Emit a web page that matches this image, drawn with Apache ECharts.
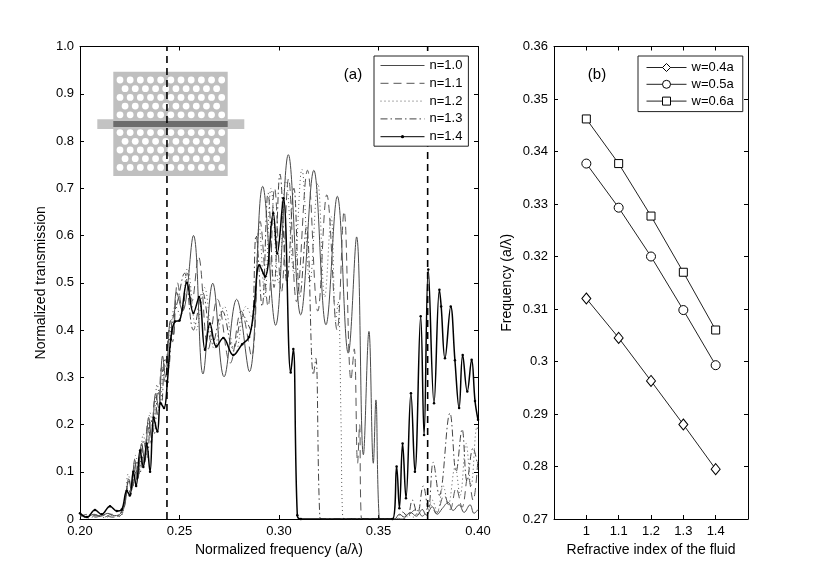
<!DOCTYPE html>
<html>
<head>
<meta charset="utf-8">
<script src="https://cdn.jsdelivr.net/npm/echarts@6/dist/echarts.min.js"></script>
<style>
html, body { margin: 0; padding: 0; background: #fff; }
#main { width: 830px; height: 587px; }
</style>
</head>
<body>
<div id="main"></div>
<script>
// (a) transmission spectra, [frequency a/lambda, transmission]
var seriesNames = ['n=1.0', 'n=1.1', 'n=1.2', 'n=1.3', 'n=1.4'];

var transN10 = [[0.200,0.012],[0.2035,0.004],[0.207,0.010],[0.2105,0.006],[0.214,0.012],[0.2175,0.007],[0.2205,0.012],
  [0.2225,0.030],[0.2245,0.085],[0.2258,0.060],[0.2275,0.125],[0.2290,0.085],[0.2310,0.160],[0.2325,0.120],[0.2345,0.215],
  [0.2360,0.170],[0.2380,0.265],[0.2395,0.235],[0.2415,0.345],[0.2430,0.300],[0.2455,0.420],[0.2468,0.390],[0.2485,0.480],
  [0.2515,0.440],[0.2570,0.600],[0.2618,0.307],[0.2667,0.499],[0.2724,0.301],[0.2787,0.465],[0.2851,0.312],[0.2918,0.704],
  [0.2983,0.410],[0.3047,0.771],[0.3109,0.432],[0.3175,0.738],[0.3236,0.411],[0.3293,0.683],[0.3348,0.351],[0.3390,0.597],
  [0.3424,0.136],[0.3452,0.397],[0.3474,0.118],[0.3487,0.252],[0.3503,0.004],[0.3520,0],[0.3580,0],[0.3605,0.010],
  [0.3630,0.004],[0.3660,0.014],[0.3690,0.006],[0.3720,0.020],[0.3740,0.008],[0.3770,0.026],[0.3795,0.010],[0.3820,0.022],
  [0.3850,0.035],[0.3875,0.018],[0.3905,0.030],[0.3930,0.014],[0.3960,0.030],[0.3980,0.012],[0.4000,0.020]];

var transN11 = [[0.200,0.008],[0.204,0.003],[0.208,0.008],[0.212,0.004],[0.216,0.010],[0.2195,0.006],[0.2220,0.020],
  [0.2240,0.070],[0.2255,0.050],[0.2272,0.110],[0.2288,0.080],[0.2305,0.150],[0.2322,0.115],[0.2340,0.200],[0.2358,0.160],
  [0.2375,0.250],[0.2392,0.220],[0.2410,0.320],[0.2428,0.290],[0.2448,0.400],[0.2465,0.375],[0.2490,0.500],[0.2515,0.440],
  [0.2540,0.520],[0.2562,0.460],[0.2595,0.555],[0.2645,0.360],[0.2690,0.465],[0.2755,0.330],[0.2810,0.440],[0.2862,0.345],
  [0.2905,0.630],[0.2945,0.450],[0.2978,0.700],[0.3012,0.480],[0.3048,0.720],[0.3088,0.460],[0.3143,0.738],[0.3195,0.440],
  [0.3240,0.686],[0.3292,0.400],[0.3327,0.651],[0.3362,0.294],[0.3378,0.360],[0.3395,0.118],[0.3405,0.200],[0.3413,0.004],
  [0.3430,0],[0.3620,0],[0.3650,0.008],[0.3690,0.020],[0.3720,0.006],[0.3760,0.030],[0.3790,0.012],[0.3830,0.050],
  [0.3860,0.020],[0.3890,0.065],[0.3920,0.025],[0.3950,0.090],[0.3975,0.040],[0.4000,0.130]];

var transN12 = [[0.200,0.006],[0.2045,0.002],[0.2085,0.007],[0.2125,0.003],[0.2165,0.008],[0.2200,0.005],[0.2225,0.035],
  [0.2242,0.095],[0.2258,0.070],[0.2280,0.135],[0.2296,0.100],[0.2318,0.180],[0.2334,0.140],[0.2352,0.225],[0.2368,0.190],
  [0.2388,0.285],[0.2404,0.250],[0.2422,0.330],[0.2440,0.310],[0.2458,0.410],[0.2480,0.450],[0.2505,0.430],[0.2540,0.530],
  [0.2585,0.400],[0.2625,0.490],[0.2675,0.360],[0.2725,0.450],[0.2780,0.350],[0.2835,0.450],[0.2870,0.420],[0.2900,0.620],
  [0.2928,0.470],[0.2960,0.700],[0.2998,0.500],[0.3035,0.720],[0.3075,0.520],[0.3115,0.740],[0.3155,0.500],[0.3195,0.710],
  [0.3230,0.470],[0.3262,0.640],[0.3285,0.420],[0.3297,0.460],[0.3312,0.200],[0.3320,0.004],[0.3335,0],[0.3600,0],
  [0.3640,0.010],[0.3675,0.004],[0.3710,0.025],[0.3740,0.008],[0.3770,0.040],[0.3795,0.015],[0.3825,0.070],[0.3850,0.030],
  [0.3885,0.110],[0.3910,0.050],[0.3940,0.160],[0.3965,0.070],[0.3995,0.195],[0.4000,0.190]];

var transN13 = [[0.200,0.005],[0.2040,0.010],[0.2080,0.004],[0.2120,0.009],[0.2160,0.004],[0.2200,0.010],[0.2228,0.045],
  [0.2246,0.080],[0.2262,0.065],[0.2283,0.120],[0.2300,0.095],[0.2320,0.165],[0.2338,0.130],[0.2356,0.210],[0.2373,0.180],
  [0.2392,0.270],[0.2408,0.240],[0.2428,0.340],[0.2443,0.320],[0.2465,0.420],[0.2490,0.460],[0.2525,0.520],[0.2570,0.400],
  [0.2615,0.480],[0.2665,0.370],[0.2715,0.440],[0.2770,0.360],[0.2820,0.430],[0.2858,0.400],[0.2885,0.600],[0.2915,0.450],
  [0.2945,0.690],[0.2975,0.490],[0.3005,0.730],[0.3040,0.500],[0.3075,0.700],[0.3105,0.470],[0.3138,0.620],[0.3173,0.305],
  [0.3185,0.340],[0.3205,0.004],[0.3220,0],[0.3590,0],[0.3620,0.015],[0.3645,0.005],[0.3670,0.040],[0.3695,0.010],
  [0.3725,0.070],[0.3750,0.020],[0.3775,0.120],[0.3805,0.050],[0.3859,0.224],[0.3890,0.100],[0.3920,0.190],[0.3945,0.080],
  [0.3975,0.150],[0.4000,0.110]];

var transN14 = [[0.200,0.012],[0.2035,0.004],[0.2075,0.019],[0.2109,0.010],[0.2151,0.027],[0.2185,0.017],[0.2210,0.020],
  [0.2235,0.060],[0.2250,0.050],[0.2268,0.100],[0.2282,0.070],[0.2302,0.145],[0.2318,0.110],[0.2335,0.160],[0.2352,0.100],
  [0.2370,0.215],[0.2389,0.185],[0.2405,0.245],[0.2422,0.235],[0.2439,0.290],[0.2456,0.380],[0.2477,0.418],[0.2500,0.420],
  [0.2537,0.500],[0.2570,0.436],[0.2598,0.470],[0.2628,0.358],[0.2653,0.414],[0.2685,0.365],[0.2720,0.383],[0.2770,0.347],
  [0.2815,0.370],[0.2850,0.385],[0.2875,0.450],[0.2901,0.537],[0.2930,0.513],[0.2971,0.647],[0.2991,0.562],[0.3022,0.679],
  [0.3059,0.310],[0.3072,0.360],[0.3092,0.008],[0.3110,0],[0.3570,0],[0.3591,0.111],[0.3605,0.023],[0.3621,0.160],
  [0.3638,0.044],[0.3663,0.266],[0.3683,0.100],[0.3712,0.429],[0.3729,0.178],[0.3750,0.528],[0.3779,0.245],[0.3806,0.485],
  [0.3815,0.450],[0.3834,0.340],[0.3863,0.450],[0.3884,0.336],[0.3905,0.235],[0.3923,0.347],[0.3946,0.270],[0.3968,0.337],
  [0.3985,0.250],[0.4000,0.210]];

// band edges marked with dashed lines
var cutoffFreq = [0.2437, 0.3747];

// (b) defect mode frequency vs fluid index
var widthNames = ['w=0.4a', 'w=0.5a', 'w=0.6a'];
var fluidIndex = [1.0, 1.1, 1.2, 1.3, 1.4];
var freqW04 = [0.3120, 0.3045, 0.2963, 0.2880, 0.2795];
var freqW05 = [0.3377, 0.3293, 0.3200, 0.3098, 0.2993];
var freqW06 = [0.3462, 0.3377, 0.3277, 0.3170, 0.3060];

var font = '"Liberation Sans", Arial, Helvetica, sans-serif';
var myChart = echarts.init(document.getElementById('main'));

function frameAxis(grid, pos, min, max, step, extra) {
    var ax = {
        type: 'value', gridIndex: grid, position: pos,
        min: min, max: max, interval: step,
        axisLine: { show: true, onZero: false, lineStyle: { color: '#000', width: 1 } },
        axisTick: { show: true, inside: true, length: 4, lineStyle: { color: '#000' } },
        axisLabel: { show: false },
        splitLine: { show: false }
    };
    return Object.assign(ax, extra || {});
}

var tickText = { show: true, color: '#000', fontSize: 13, fontFamily: font, margin: 6 };
var nameText = { color: '#000', fontSize: 14, fontFamily: font };

function pair(xs, ys) {
    return xs.map(function (x, i) { return [x, ys[i]]; });
}

// photonic crystal inset
var inset = [
    { type: 'rect', shape: { x: 113.3, y: 71.7, width: 114.4, height: 104.3 }, style: { fill: '#bfbfbf' } },
    { type: 'rect', shape: { x: 97.3, y: 119.3, width: 147, height: 9.7 }, style: { fill: '#c3c3c3' } },
    { type: 'rect', shape: { x: 113.3, y: 121, width: 114.4, height: 6 }, style: { fill: '#6c6c6c' } }
];
var rowY = [80, 88.7, 97.4, 106.1, 114.8, 132.6, 141.3, 150, 158.7, 167.4];
rowY.forEach(function (y, r) {
    var shift = (r % 5) % 2 === 1;
    var count = shift ? 10 : 11;
    for (var c = 0; c < count; c++) {
        inset.push({ type: 'circle', shape: { cx: 120 + c * 10.17 + (shift ? 5.08 : 0), cy: y, r: 3.4 }, style: { fill: '#fff' } });
    }
});

// hide the marker in legend icons of the plain line styles
var legendA = seriesNames.map(function (n, i) {
    return i < 4 ? { name: n, itemStyle: { opacity: 0 } } : { name: n };
});

var cutoffSeries = cutoffFreq.map(function (f) {
    return {
        type: 'line', xAxisIndex: 0, yAxisIndex: 0, data: [[f, 0], [f, 1]],
        symbol: 'none', silent: true, z: 3,
        lineStyle: { color: '#000', type: [7, 5], width: 1.6 }
    };
});

var option = {
    animation: false,
    backgroundColor: '#fff',
    textStyle: { fontFamily: font },
    grid: [
        { left: 80, top: 46.5, width: 398, height: 472.5 },
        { left: 554, top: 46.5, width: 194, height: 472.5 }
    ],
    xAxis: [
        frameAxis(0, 'bottom', 0.2, 0.4, 0.05, {
            axisLabel: Object.assign({}, tickText, { formatter: function (v) { return v.toFixed(2); } }),
            name: 'Normalized frequency (a/λ)', nameLocation: 'middle', nameGap: 24, nameTextStyle: nameText
        }),
        frameAxis(0, 'top', 0.2, 0.4, 0.05),
        frameAxis(1, 'bottom', 0.9, 1.5, 0.1, {
            axisLabel: Object.assign({}, tickText, {
                formatter: function (v) { return (v < 0.95 || v > 1.45) ? '' : String(+v.toFixed(1)); }
            }),
            name: 'Refractive index of the fluid', nameLocation: 'middle', nameGap: 24, nameTextStyle: nameText
        }),
        frameAxis(1, 'top', 0.9, 1.5, 0.1)
    ],
    yAxis: [
        frameAxis(0, 'left', 0, 1, 0.1, {
            axisLabel: Object.assign({}, tickText, { formatter: function (v) { return v === 0 ? '0' : v.toFixed(1); } }),
            name: 'Normalized transmission', nameLocation: 'middle', nameGap: 32, nameTextStyle: nameText
        }),
        frameAxis(0, 'right', 0, 1, 0.1),
        frameAxis(1, 'left', 0.27, 0.36, 0.01, {
            axisLabel: Object.assign({}, tickText, { formatter: function (v) { return String(+v.toFixed(2)); } }),
            name: 'Frequency (a/λ)', nameLocation: 'middle', nameGap: 40, nameTextStyle: nameText
        }),
        frameAxis(1, 'right', 0.27, 0.36, 0.01)
    ],
    legend: [
        {
            data: legendA, orient: 'vertical', left: 374, top: 56,
            itemWidth: 44, itemHeight: 4, itemGap: 4.8,
            padding: [3, 6, 3, 6],
            backgroundColor: '#fff', borderColor: '#222', borderWidth: 1, borderRadius: 0,
            lineStyle: { width: 1 },
            textStyle: { color: '#000', fontSize: 13, fontFamily: font }
        },
        {
            data: widthNames, orient: 'vertical', left: 638, top: 56,
            itemWidth: 40, itemHeight: 10, itemGap: 3.8,
            padding: [5, 9, 4, 8],
            backgroundColor: '#fff', borderColor: '#222', borderWidth: 1, borderRadius: 0,
            lineStyle: { width: 1 },
            itemStyle: { borderWidth: 1 },
            textStyle: { color: '#000', fontSize: 13, fontFamily: font }
        }
    ],
    graphic: [
        { type: 'group', z: 100, children: inset },
        { type: 'text', z: 100, x: 353, y: 75, style: { text: '(a)', font: '15px ' + font, fill: '#000', align: 'center', verticalAlign: 'middle' } },
        { type: 'text', z: 100, x: 597, y: 75, style: { text: '(b)', font: '15px ' + font, fill: '#000', align: 'center', verticalAlign: 'middle' } }
    ],
    series: [
        {
            name: 'n=1.0', type: 'line', xAxisIndex: 0, yAxisIndex: 0, data: transN10,
            smooth: 0.4, symbol: 'none', itemStyle: { color: '#4a4a4a' }, lineStyle: { color: '#4a4a4a', width: 1 }
        },
        {
            name: 'n=1.1', type: 'line', xAxisIndex: 0, yAxisIndex: 0, data: transN11,
            smooth: 0.4, symbol: 'none', itemStyle: { color: '#555' }, lineStyle: { color: '#555', width: 1, type: [8, 5] }
        },
        {
            name: 'n=1.2', type: 'line', xAxisIndex: 0, yAxisIndex: 0, data: transN12,
            smooth: 0.4, symbol: 'none', itemStyle: { color: '#555' }, lineStyle: { color: '#555', width: 1, type: [1, 3] }
        },
        {
            name: 'n=1.3', type: 'line', xAxisIndex: 0, yAxisIndex: 0, data: transN13,
            smooth: 0.4, symbol: 'none', itemStyle: { color: '#444' }, lineStyle: { color: '#444', width: 1, type: [7, 3, 1.5, 3] }
        },
        {
            name: 'n=1.4', type: 'line', xAxisIndex: 0, yAxisIndex: 0, data: transN14,
            smooth: 0.4, symbol: 'circle', symbolSize: 2.5, showSymbol: true,
            itemStyle: { color: '#000' }, lineStyle: { color: '#000', width: 1.5 }
        },
        {
            name: 'w=0.4a', type: 'line', xAxisIndex: 2, yAxisIndex: 2, data: pair(fluidIndex, freqW04),
            symbol: 'diamond', symbolSize: [9, 11],
            itemStyle: { color: '#fff', borderColor: '#000', borderWidth: 1 },
            lineStyle: { color: '#222', width: 1 }
        },
        {
            name: 'w=0.5a', type: 'line', xAxisIndex: 2, yAxisIndex: 2, data: pair(fluidIndex, freqW05),
            symbol: 'circle', symbolSize: 9,
            itemStyle: { color: '#fff', borderColor: '#000', borderWidth: 1 },
            lineStyle: { color: '#222', width: 1 }
        },
        {
            name: 'w=0.6a', type: 'line', xAxisIndex: 2, yAxisIndex: 2, data: pair(fluidIndex, freqW06),
            symbol: 'rect', symbolSize: 8,
            itemStyle: { color: '#fff', borderColor: '#000', borderWidth: 1 },
            lineStyle: { color: '#222', width: 1 }
        }
    ].concat(cutoffSeries)
};

myChart.setOption(option);
</script>
</body>
</html>
